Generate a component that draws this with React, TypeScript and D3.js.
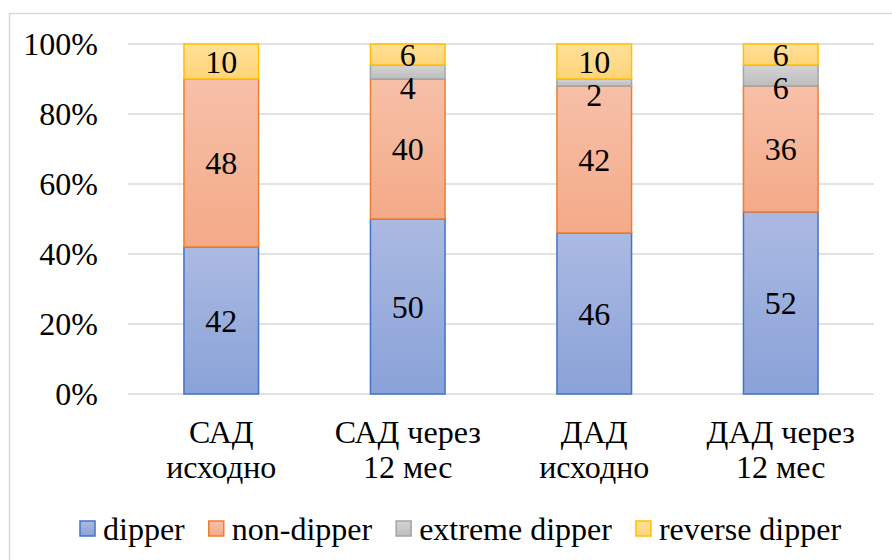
import React, { useLayoutEffect, useRef, useState } from "react";
import * as d3 from "d3";

const categories = [["САД", "исходно"], ["САД через", "12 мес"], ["ДАД", "исходно"], ["ДАД через", "12 мес"]];
const seriesNames = ["dipper", "non-dipper", "extreme dipper", "reverse dipper"];
const dipper = [42, 50, 46, 52];
const nonDipper = [48, 40, 42, 36];
const extremeDipper = [0, 4, 2, 6];
const reverseDipper = [10, 6, 10, 6];
const yTicks = [0, 20, 40, 60, 80, 100];

const fills = [
  ["#abbae2", "#8aa2d8"],
  ["#f7c0a8", "#f4aa88"],
  ["#d4d4d4", "#bdbdbd"],
  ["#ffe09a", "#ffd478"],
];
const strokes = ["#4472c4", "#ed7d31", "#a5a5a5", "#ffc000"];

const FS = 32;
const ts: React.CSSProperties = { fontFamily: "Liberation Serif", fontSize: FS, fill: "#000" };

export default function App() {
  const W = 892, H = 560;
  const x = d3.scaleBand<number>().domain(d3.range(categories.length)).range([128, 874]).paddingInner(0.6).paddingOuter(0.3);
  const y = d3.scaleLinear().domain([0, 100]).range([394, 44]);
  const data = [dipper, nonDipper, extremeDipper, reverseDipper];
  const stack = d3.stack<number>().keys([0, 1, 2, 3].map(String)).value((i, k) => data[+k][i]);
  const stacked = stack(d3.range(categories.length));

  const labels: { x: number; y: number; v: number }[] = [];
  categories.forEach((_, ci) => {
    let prevY = -Infinity;
    for (let s = 3; s >= 0; s--) {
      const v = data[s][ci];
      if (!v) continue;
      const [a, b] = stacked[s][ci];
      const cy = Math.max(y((a + b) / 2), prevY + 33);
      prevY = cy;
      labels.push({ x: x(ci)! + x.bandwidth() / 2, y: cy, v });
    }
  });

  const refs = useRef<(SVGTextElement | null)[]>([]);
  const [widths, setWidths] = useState<number[]>([79, 136, 187, 180]);
  useLayoutEffect(() => {
    const w = refs.current.map((r) => (r ? r.getComputedTextLength() : 0));
    if (w.every((v) => v > 0) && w.some((v, i) => Math.abs(v - widths[i]) > 0.5)) setWidths(w);
  });

  let lx = 80;
  const legend = seriesNames.map((n, i) => {
    const item = { x: lx, name: n, i };
    lx += 23 + widths[i] + 24;
    return item;
  });

  return (
    <svg width={W} height={H} style={{ position: "absolute", left: 0, top: 0 }}>
      <style>{`text { font-family: "Liberation Serif", "Times New Roman", serif; }`}</style>
      <defs>
        {fills.map((f, i) => (
          <linearGradient key={i} id={`g${i}`} x1="0" y1="0" x2="0" y2="1">
            <stop offset="0" stopColor={f[0]} />
            <stop offset="1" stopColor={f[1]} />
          </linearGradient>
        ))}
      </defs>
      <rect x={9.5} y={13.5} width={W + 20} height={H + 20} fill="#fff" stroke="#d9d9d9" strokeWidth={1.5} />
      {yTicks.map((t) => (
        <line key={t} x1={128} x2={874} y1={y(t)} y2={y(t)} stroke="#d9d9d9" strokeWidth={1.5} />
      ))}
      {yTicks.map((t) => (
        <text key={t} x={98} y={y(t) + 11} textAnchor="end" style={ts}>{t}%</text>
      ))}
      {stacked.map((layer, s) =>
        layer.map((d, ci) =>
          data[s][ci] ? (
            <rect key={`${s}-${ci}`} x={x(ci)!} y={y(d[1])} width={x.bandwidth()} height={y(d[0]) - y(d[1])}
              fill={`url(#g${s})`} stroke={strokes[s]} strokeWidth={1.5} />
          ) : null
        )
      )}
      {labels.map((l, i) => (
        <text key={i} x={l.x} y={l.y + 11} textAnchor="middle" style={ts}>{l.v}</text>
      ))}
      {categories.map((c, ci) => (
        <text key={ci} x={x(ci)! + x.bandwidth() / 2} textAnchor="middle" style={ts}>
          <tspan x={x(ci)! + x.bandwidth() / 2} y={443}>{c[0]}</tspan>
          <tspan x={x(ci)! + x.bandwidth() / 2} y={478}>{c[1]}</tspan>
        </text>
      ))}
      {legend.map((l) => (
        <rect key={l.i} x={l.x} y={521} width={15} height={15} fill={`url(#g${l.i})`} stroke={strokes[l.i]} strokeWidth={1.5} />
      ))}
      {legend.map((l) => (
        <text key={l.i} ref={(el) => { refs.current[l.i] = el; }} x={l.x + 23} y={540} style={ts}>{l.name}</text>
      ))}
    </svg>
  );
}
